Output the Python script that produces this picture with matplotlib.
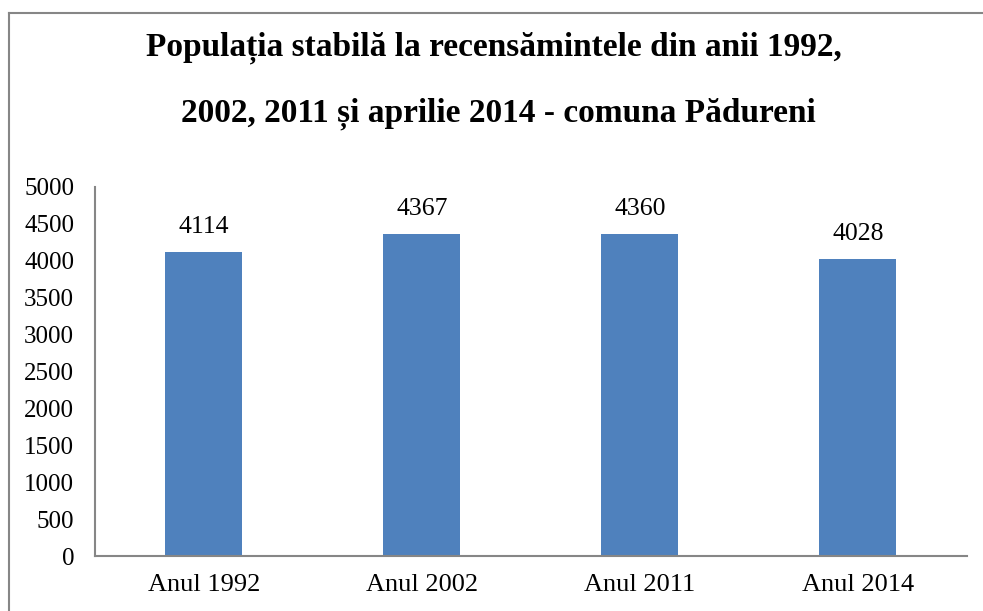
import matplotlib
matplotlib.use("Agg")
import matplotlib.pyplot as plt
from matplotlib.lines import Line2D

plt.rcParams["font.family"] = ["Liberation Serif", "DejaVu Serif"]

categories = ["Anul 1992", "Anul 2002", "Anul 2011", "Anul 2014"]
values = [4114, 4367, 4360, 4028]
yticks = list(range(0, 5001, 500))

BAR_COLOR = "#4F81BD"
AXIS_COLOR = "#868686"

fig = plt.figure(figsize=(9.83, 6.11), dpi=100)
ax = fig.add_axes([0.0966, 0.09, 0.887, 0.604])

x = range(len(categories))
bars = ax.bar(x, values, width=0.353, color=BAR_COLOR)

for b, v in zip(bars, values):
    ax.annotate(str(v), (b.get_x() + b.get_width() / 2, v),
                xytext=(0, 10), textcoords="offset points",
                ha="center", va="bottom", fontsize=18.5)

ax.set_xlim(-0.5, len(categories) - 0.5)
ax.set_ylim(0, 5000)
ax.set_yticks(yticks)
ax.set_xticks(list(x))
ax.set_xticklabels(categories)
ax.tick_params(axis="y", length=0, pad=15, labelsize=18)
ax.tick_params(axis="x", length=0, pad=13, labelsize=19)

for side in ["top", "right"]:
    ax.spines[side].set_visible(False)
for side in ["left", "bottom"]:
    ax.spines[side].set_color(AXIS_COLOR)
    ax.spines[side].set_linewidth(1.5)

# title, two lines
fig.text(0.502, 1 - 48 / 611, "Populația stabilă la recensămintele din anii 1992,",
         ha="center", va="center", fontsize=24, fontweight="bold")
fig.text(0.507, 1 - 114 / 611, "2002, 2011 și aprilie 2014 - comuna Pădureni",
         ha="center", va="center", fontsize=24, fontweight="bold")

# chart-area border (only left and top edges visible in frame)
fig.add_artist(Line2D([8.5 / 983, 8.5 / 983], [0, 1 - 12.5 / 611],
                      transform=fig.transFigure, color=AXIS_COLOR, lw=1.5))
fig.add_artist(Line2D([8.5 / 983, 1], [1 - 12.5 / 611, 1 - 12.5 / 611],
                      transform=fig.transFigure, color=AXIS_COLOR, lw=1.5))

fig.savefig("out.png", dpi=100)
